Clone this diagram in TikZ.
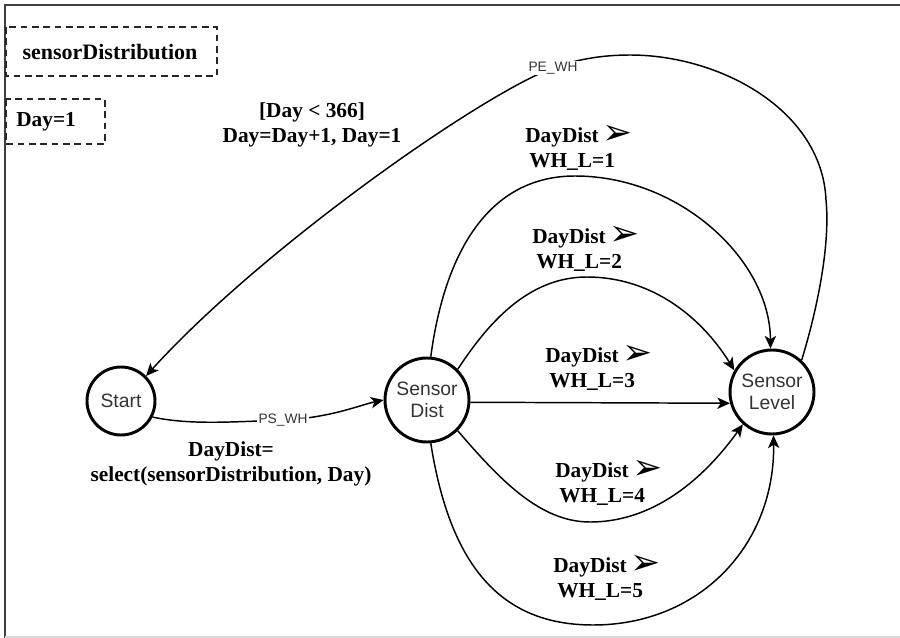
\documentclass[tikz,border=0pt]{standalone}
\usepackage{fontspec}
\setmainfont{Liberation Serif}
\setsansfont{Liberation Sans}
\newfontfamily\dvs{DejaVu Sans}
\usetikzlibrary{arrows.meta}
\newcommand{\tdarrow}{\,{\dvs\fontsize{27}{27}\selectfont\smash{\raisebox{-1.5pt}{➢}}}}
\begin{document}
\begin{tikzpicture}[x=0.75pt,y=-0.75pt,
  state/.style={circle, draw, line width=2.2pt, inner sep=0pt, minimum size=63pt,
    font=\sffamily\fontsize{14.5}{17}\selectfont, align=center, text=black!80},
  arr/.style={draw, line width=1.1pt, -{Stealth[length=9.5pt,width=8.5pt,inset=2.5pt]}},
  blbl/.style={font=\bfseries\fontsize{16}{19}\selectfont, align=center, inner sep=0pt},
  wlbl/.style={font=\bfseries\fontsize{16}{19}\selectfont, align=left, inner sep=0pt, anchor=west},
  elbl/.style={font=\sffamily\fontsize{10.3}{12}\selectfont, fill=white, inner sep=1pt, text=black!80},
  dbox/.style={draw, dashed, line width=1.4pt, dash pattern=on 5pt off 3.5pt, black!85}
]
\useasboundingbox (0,0) rectangle (900,638);
% frame
\draw[line width=2pt, black!75] (5,638) -- (5,5) -- (900,5);
\draw[line width=1pt, black!15] (5,637) -- (900,637);

% dashed boxes
\draw[dbox] (6,27) rectangle (217,76);
\node[blbl, font=\bfseries\fontsize{16.5}{19}\selectfont] (sdtxt) at (110,52) {sensorDistribution};
\draw[dbox] (6,99) rectangle (105,144);
\node[blbl, anchor=west] (daytxt) at (16,122) {Day=1};

% states
\node[state, minimum size=51pt] (st) at (121,401) {Start};
\node[state] (sd) at (427,400) {Sensor\\Dist};
\node[state] (sl) at (772,392) {Sensor\\Level};

% Start -> Sensor Dist
\coordinate (psw) at (283,420);
\draw[arr] (st.-27) .. controls (190,425) and (230,422) .. (psw)
  .. controls (330,418) and (360,405) .. (sd.west);
\node[elbl] (pslbl) at (psw) {PS\_WH};
\node[blbl] (sel) at (231,464) {DayDist=\\select(sensorDistribution, Day)};

% Sensor Level -> Start
\coordinate (pew) at (553,68);
\draw[arr] (sl.47) .. controls (820,300) and (830,240) .. (826,200)
  .. controls (822,110) and (720,55) .. (630,55)
  .. controls (600,55) and (575,60) .. (pew)
  .. controls (480,95) and (260,250) .. (st.45);
\node[elbl] (pelbl) at (pew) {PE\_WH};
\node[blbl] (guard) at (312,125) {[Day < 366]\\Day=Day+1, Day=1};

% Sensor Dist -> Sensor Level
\draw[arr] (sd.85) .. controls (445,250) and (490,176) .. (575,176)
  .. controls (680,176) and (770,260) .. (sl.92);
\draw[arr] (sd.45) .. controls (490,320) and (530,277) .. (587,277)
  .. controls (650,277) and (700,315) .. (sl.150);
\draw[arr] (sd.-3) -- (sl.-165);
\draw[arr] (sd.-45) .. controls (500,480) and (540,522) .. (590,522)
  .. controls (660,522) and (710,470) .. (sl.228);
\draw[arr] (sd.-85) .. controls (450,565) and (500,625) .. (593,625)
  .. controls (700,625) and (775,545) .. (sl.-88);

\node[wlbl] (l1) at (525,149) {DayDist\tdarrow\\\hspace*{3pt}WH\_L=1};
\node[wlbl] (l2) at (532,250) {DayDist\tdarrow\\\hspace*{3pt}WH\_L=2};
\node[wlbl] (l3) at (545,369) {DayDist\tdarrow\\\hspace*{3pt}WH\_L=3};
\node[wlbl] (l4) at (555,484) {DayDist\tdarrow\\\hspace*{3pt}WH\_L=4};
\node[wlbl] (l5) at (553,579) {DayDist\tdarrow\\\hspace*{3pt}WH\_L=5};
\end{tikzpicture}
\end{document}
